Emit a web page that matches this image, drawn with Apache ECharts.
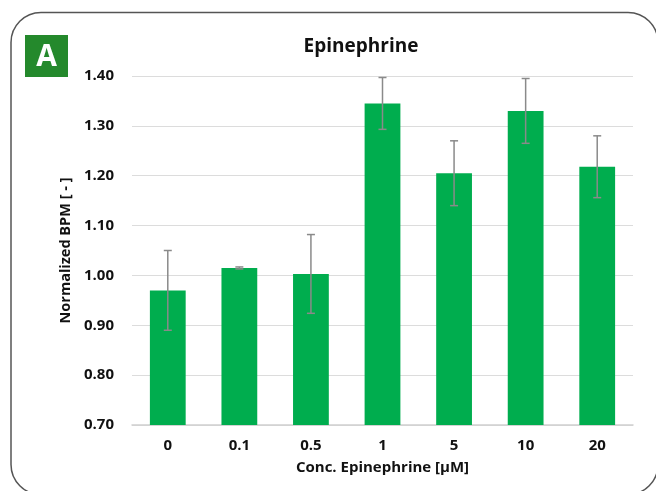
<!DOCTYPE html>
<html>
<head>
<meta charset="utf-8">
<script src="https://cdn.jsdelivr.net/npm/echarts@6/dist/echarts.min.js"></script>
<style>
  html, body { margin: 0; padding: 0; background: #fff; }
  #chart { width: 656px; height: 491px; }
</style>
</head>
<body>
<div id="chart"></div>
<script>
// Epinephrine dose response (normalized BPM)
const concentrations = ['0', '0.1', '0.5', '1', '5', '10', '20'];
const meanBpm = [0.97, 1.015, 1.003, 1.345, 1.205, 1.33, 1.218];
const errBpm = [0.08, 0.002, 0.079, 0.052, 0.065, 0.065, 0.062];
const yTicks = [0.7, 0.8, 0.9, 1.0, 1.1, 1.2, 1.3, 1.4];

const textFont = '"Open Sans", "Liberation Sans", sans-serif';

let chartDom = document.getElementById('chart');
let myChart = echarts.init(chartDom);

const errData = meanBpm.map((m, i) => [i, m - errBpm[i], m + errBpm[i]]);

let option = {
  animation: false,
  title: {
    text: 'Epinephrine',
    left: 356,
    top: 32,
    textAlign: 'center',
    textStyle: { fontFamily: textFont, fontWeight: 'bold', fontSize: 19, color: '#111' }
  },
  graphic: [
    {
      // rounded panel frame, runs off the right and bottom edges
      type: 'rect',
      shape: { x: 11, y: 12.5, width: 647, height: 482, r: 30 },
      style: { fill: 'none', stroke: '#555', lineWidth: 1.5 },
      silent: true
    },
    {
      type: 'rect',
      shape: { x: 25, y: 35, width: 43, height: 42 },
      style: { fill: '#24892c' },
      silent: true
    },
    {
      type: 'text',
      x: 46.5, y: 57,
      style: {
        text: 'A', fill: '#fff', fontSize: 30, fontWeight: 'bold', fontFamily: textFont,
        align: 'center', verticalAlign: 'middle'
      },
      silent: true
    }
  ],
  grid: { left: 132, right: 23, top: 76, bottom: 66 },
  xAxis: {
    type: 'category',
    data: concentrations,
    name: 'Conc. Epinephrine [µM]',
    nameLocation: 'middle',
    nameGap: 35,
    nameTextStyle: { fontFamily: textFont, fontWeight: 'bold', fontSize: 15, color: '#111' },
    axisLine: { lineStyle: { color: '#d0d0d0', width: 1.5 } },
    axisTick: { show: false },
    axisLabel: { margin: 13, fontFamily: textFont, fontWeight: 'bold', fontSize: 15, color: '#111' }
  },
  yAxis: {
    type: 'value',
    min: yTicks[0],
    max: yTicks[yTicks.length - 1],
    interval: 0.1,
    name: 'Normalized BPM [ - ]',
    nameLocation: 'middle',
    nameGap: 59,
    nameTextStyle: { fontFamily: textFont, fontWeight: 'bold', fontSize: 14.5, color: '#111' },
    axisLine: { show: false },
    axisTick: { show: false },
    splitLine: { lineStyle: { color: '#dcdcdc', width: 1 } },
    axisLabel: {
      margin: 18,
      fontFamily: textFont, fontWeight: 'bold', fontSize: 15, color: '#111',
      formatter: v => v.toFixed(2)
    }
  },
  series: [
    {
      type: 'bar',
      data: meanBpm,
      barWidth: '50%',
      itemStyle: { color: '#00ad4e' }
    },
    {
      type: 'custom',
      data: errData,
      z: 5,
      renderItem: function (params, api) {
        const x = api.value(0);
        const lo = api.coord([x, api.value(1)]);
        const hi = api.coord([x, api.value(2)]);
        const cap = 4;
        const st = { stroke: '#8a8a8a', lineWidth: 1.5 };
        return {
          type: 'group',
          children: [
            { type: 'line', shape: { x1: lo[0], y1: lo[1], x2: hi[0], y2: hi[1] }, style: st },
            { type: 'line', shape: { x1: lo[0] - cap, y1: lo[1], x2: lo[0] + cap, y2: lo[1] }, style: st },
            { type: 'line', shape: { x1: hi[0] - cap, y1: hi[1], x2: hi[0] + cap, y2: hi[1] }, style: st }
          ]
        };
      }
    }
  ]
};

option && myChart.setOption(option);
</script>
</body>
</html>
